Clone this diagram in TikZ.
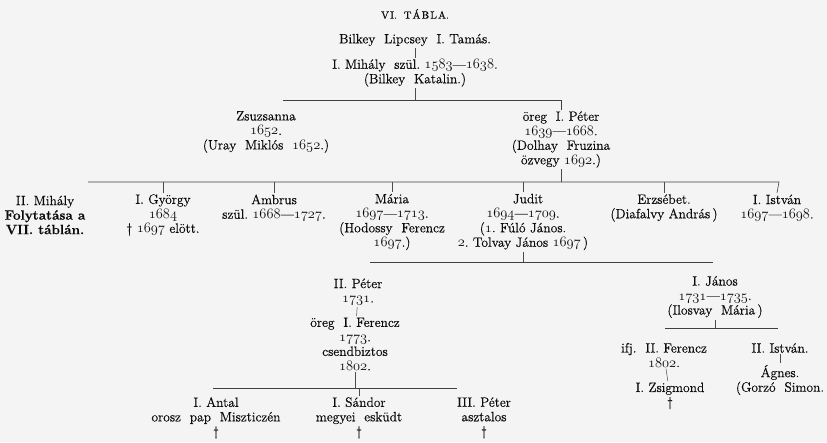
\documentclass[tikz,border=0pt]{standalone}
\usepackage{fontspec}
\setmainfont{Latin Modern Roman}[FakeBold=0.5]
\usepackage{tikz}
\usetikzlibrary{calc}
\definecolor{paper}{RGB}{244,244,244}
\definecolor{ink}{RGB}{12,12,12}
\newcommand{\osn}[1]{{\usefont{OML}{cmm}{m}{it}#1}}

\begin{document}
\begin{tikzpicture}[x=1pt,y=-1pt,
  every node/.style={text=ink, font=\fontsize{13.5}{14.5}\selectfont, align=center, inner sep=1.5pt},
  person/.style={},
  link/.style={draw=black!70, line width=0.5pt},
  bar/.style={draw=black!75, line width=0.6pt}]
\useasboundingbox (0,0) rectangle (827,442);
\fill[paper] (0,0) rectangle (827,442);
\node[font=\fontsize{10.5}{12}\selectfont] (title) at (415,14) {V\kern1.2pt I.\ \ T\kern1.2pt Á\kern1.2pt B\kern1.2pt L\kern1.2pt A.};
\node[person] (tamas) at (415,40) {Bilkey\ \ Lipcsey\ \ I.\ Tamás.};
\node[person] (mihaly1) at (415,73) {I.\ Mihály\ \ szül.\ \osn{1583}—\osn{1638}.\\(Bilkey\ \ Katalin.)};
\draw[link] (tamas) -- (mihaly1);
% first generation
\node[person] (zsuzsa) at (266,132) {Zsuzsanna\\\osn{1652}.\\(Uray\ \ Miklós\ \ \osn{1652}.)};
\node[person] (peter1) at (561,139.5) {öreg\ \ I.\ Péter\\\osn{1639}—\osn{1668}.\\(Dolhay\ \ Fruzina\\özvegy\ \osn{1692}.)};
\coordinate (b1l) at (283,100);
\draw[link] (mihaly1.south) -- (mihaly1.south |- b1l);
\draw[bar] (b1l) -- (b1l -| peter1) -- (peter1.north);
% second generation
\node[person] (mihaly2) at (45,215) {II.\ Mihály\\\textbf{Folytatása a}\\\textbf{VII. táblán.}};
\node[person] (gyorgy) at (163,215) {I.\ György\\\osn{1684}\\\textdagger\ \osn{1697}\ elött.};
\node[person] (ambrus) at (274,208) {Ambrus\\szül.\ \osn{1668}—\osn{1727}.};
\node[person] (maria) at (392,222) {Mária\\\osn{1697}—\osn{1713}.\\(Hodossy\ \ Ferencz\\\osn{1697}.)};
\node[person] (judit) at (523,222) {\kern10pt Judit\\\osn{1694}—\osn{1709}.\\(\osn{1}.\ Fúló\ János.\\\osn{2}.\ Tolvay\ János\ \osn{1697}\,)};
\node[person] (erzsebet) at (664,208) {Erzsébet.\\(Diafalvy\ András\,)};
\node[person] (istvan1) at (777,208) {I.\ István\\\osn{1697}—\osn{1698}.};
\coordinate (b2l) at (88,182);
\coordinate (b2r) at (779,182);
\draw[link] (peter1.south) -- (peter1.south |- b2l);
\draw[bar] (b2l) -- (b2r) -- (istvan1.north);
\foreach \kid in {gyorgy,ambrus,maria,judit,erzsebet}
  \draw[link] (\kid.north |- b2l) -- (\kid.north);
% Judit's children
\node[person] (peter2) at (358,292) {II.\ Péter\\\osn{1731}.};
\node[person] (ferencz1) at (355,344) {öreg\ \ I.\ Ferencz\\\osn{1773}.\\csendbiztos\\\osn{1802}.};
\node[person] (janos) at (715,297) {I.\ János\\\osn{1731}—\osn{1735}.\\(Ilosvay\ \ Mária\,)};
\coordinate (b3l) at (370,262);
\coordinate (b3r) at (713,262);
\draw[link] (judit.south) -- (judit.south |- b3l);
\draw[bar] (b3l) -- (b3r);
\draw[link] (peter2) -- (ferencz1);
% grandchildren, left
\node[person] (antal) at (216,418) {I.\ Antal\\orosz\ \ pap\ \ Miszticzén\\\textdagger};
\node[person] (sandor) at (359,418) {I.\ Sándor\\megyei\ \ esküdt\\\textdagger};
\node[person] (peter3) at (484,418) {III.\ Péter\\asztalos\\\textdagger};
\coordinate (b4l) at (213,388);
\coordinate (b4r) at (457,388);
\draw[link] (ferencz1.south) -- (ferencz1.south |- b4l);
\draw[bar] (b4l) -- (b4r);
\draw[link] (sandor.north |- b4l) -- (sandor.north);
% grandchildren, right
\node[person] (ferencz2) at (664,355) {ifj.\ \ II.\ Ferencz\\\osn{1802}.};
\node[person] (istvan2) at (780,348) {II.\ István.};
\node[person] (zsigmond) at (670,396) {I.\ Zsigmond\\\textdagger};
\node[person] (agnes) at (780,380) {Ágnes.\\(Gorzó\ \ Simon.};
\coordinate (b5l) at (665,328);
\coordinate (b5r) at (778,328);
\draw[link, line width=1pt] (janos.south) -- (janos.south |- b5l);
\draw[bar] (b5l) -- (b5r);
\draw[link] (ferencz2) -- (zsigmond);
\draw[link] (istvan2) -- (agnes);
\end{tikzpicture}
\end{document}
